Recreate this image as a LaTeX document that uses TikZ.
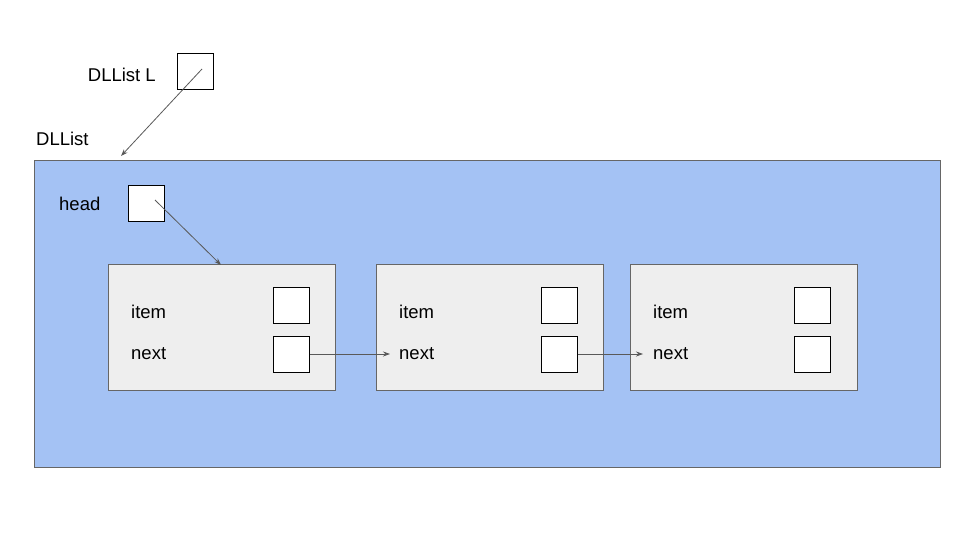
\documentclass[tikz,border=0pt]{standalone}
\usepackage{fontspec}
\setmainfont{Liberation Sans}
\usetikzlibrary{arrows.meta}
\definecolor{listblue}{HTML}{A4C2F4}
\definecolor{nodegray}{HTML}{EEEEEE}
\definecolor{edgegray}{HTML}{666666}
\definecolor{arrowgray}{HTML}{595959}
\begin{document}
\begin{tikzpicture}[x=1pt,y=-1pt,
  lbl/.style={font=\fontsize{18.5}{22}\selectfont, inner sep=0pt},
  ptrbox/.style={draw=black, fill=white, line width=1pt, minimum width=36pt, minimum height=36pt, inner sep=0pt},
  container/.style={draw=edgegray, fill=listblue, line width=0.8pt},
  nodebox/.style={draw=edgegray, fill=nodegray, line width=0.8pt},
  ptr/.style={draw=arrowgray, line width=0.8pt, -{Stealth[length=7pt,width=5pt]}}]
\useasboundingbox (0,0) rectangle (960,540);
% outer container
\path[container] (34,160) rectangle (940,467);
\node[lbl, anchor=west] (dllistlbl) at (36,139) {DLList};
% L pointer
\node[ptrbox] (Lbox) at (195,72) {};
\node[lbl, anchor=east] (Llbl) at (156,75) {DLList L};
\coordinate (Lstart) at (202,69);
\coordinate (Lend) at (121,156);
\draw[ptr] (Lstart) -- (Lend);
% head
\node[lbl, anchor=west] (headlbl) at (59,204) {head};
\node[ptrbox] (headbox) at (146,203) {};
% list nodes
\foreach \i/\x/\bx in {1/108/291, 2/376/559, 3/630/812} {
  \path[nodebox] (\x,264) rectangle ++(227,126);
  \node[lbl, anchor=west] (item\i) at (\x+23,312) {item};
  \node[lbl, anchor=west] (next\i) at (\x+23,354) {next};
  \node[ptrbox] (ib\i) at (\bx,305) {};
  \node[ptrbox] (nb\i) at (\bx,354) {};
}
\coordinate (headstart) at (155,200);
\coordinate (headend) at (221,265);
\draw[ptr] (headstart) -- (headend);
\coordinate (a2) at (390,354);
\coordinate (a3) at (643,354);
\draw[ptr] (nb1.east) -- (a2);
\draw[ptr] (nb2.east) -- (a3);
\end{tikzpicture}
\end{document}
